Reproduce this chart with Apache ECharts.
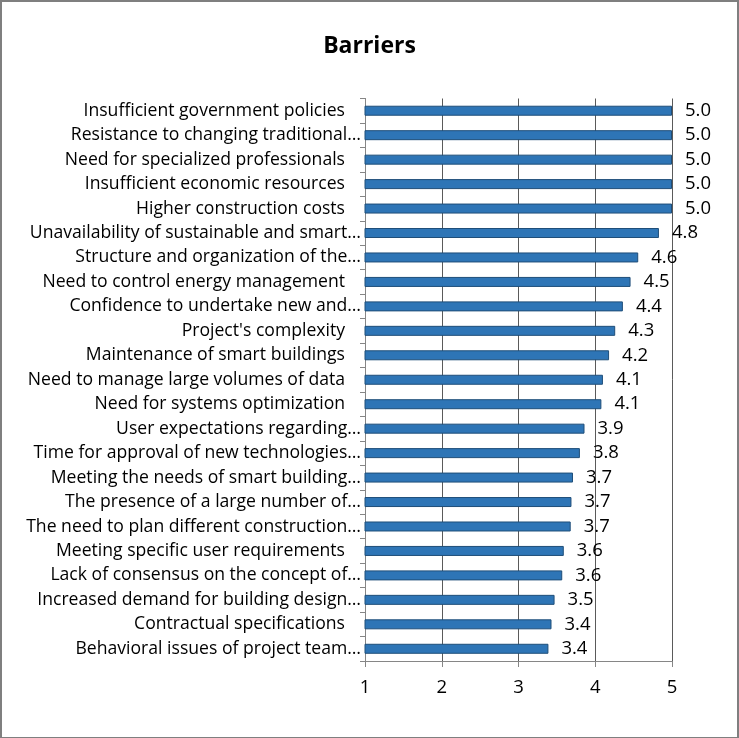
<!DOCTYPE html>
<html>
<head>
<meta charset="utf-8">
<script src="https://cdn.jsdelivr.net/npm/echarts@6/dist/echarts.min.js"></script>
<style>
html,body{margin:0;padding:0;background:#fff;}
#frame{position:absolute;left:0;top:0;width:735px;height:735px;border:2px solid #7f7f7f;}
#chart{position:absolute;left:0;top:0;width:739px;height:738px;}
</style>
</head>
<body>
<div id="frame"></div>
<div id="chart"></div>
<script>
const title = "Barriers";
const categories = [
  "Insufficient government policies",
  "Resistance to changing traditional…",
  "Need for specialized professionals",
  "Insufficient economic resources",
  "Higher construction costs",
  "Unavailability of sustainable and smart…",
  "Structure and organization of the…",
  "Need to control energy management",
  "Confidence to undertake new and…",
  "Project's complexity",
  "Maintenance of smart buildings",
  "Need to manage large volumes of data",
  "Need for systems optimization",
  "User expectations regarding…",
  "Time for approval of new technologies…",
  "Meeting the needs of smart building…",
  "The presence of a large number of…",
  "The need to plan different construction…",
  "Meeting specific user requirements",
  "Lack of consensus on the concept of…",
  "Increased demand for building design…",
  "Contractual specifications",
  "Behavioral issues of project team…"
];
const values = [5.0, 5.0, 5.0, 5.0, 5.0, 4.83, 4.56, 4.46, 4.36, 4.26, 4.18, 4.10, 4.08, 3.86, 3.80, 3.71, 3.69, 3.68, 3.59, 3.57, 3.47, 3.43, 3.39];
const xTicks = [1, 2, 3, 4, 5];

const FONT = "Open Sans";
const chart = echarts.init(document.getElementById('chart'), null, {renderer: 'canvas'});
chart.setOption({
  animation: false,
  backgroundColor: 'transparent',
  title: {
    text: title,
    left: 'center',
    top: 30,
    textStyle: {fontFamily: FONT, fontWeight: 'bold', fontSize: 23, color: '#000'}
  },
  grid: {left: 365, right: 67, top: 98.5, bottom: 77, containLabel: false},
  xAxis: {
    type: 'value',
    min: xTicks[0],
    max: xTicks[xTicks.length - 1],
    interval: 1,
    axisLine: {show: true, lineStyle: {color: '#868686', width: 1}},
    axisTick: {show: true, length: 6, lineStyle: {color: '#868686'}},
    splitLine: {show: true, lineStyle: {color: '#5a5a5a', width: 1}},
    axisLabel: {
      fontFamily: FONT, fontSize: 18.5, color: '#000', margin: 17,
      formatter: v => xTicks.includes(v) ? String(v) : ''
    }
  },
  yAxis: {
    type: 'category',
    inverse: true,
    data: categories,
    axisLine: {show: true, lineStyle: {color: '#868686', width: 1}},
    axisTick: {show: true, length: 5, lineStyle: {color: '#868686'}},
    splitLine: {show: false},
    axisLabel: {
      fontFamily: FONT, fontSize: 17.6, color: '#000', margin: 4,
      formatter: v => v.endsWith('…') ? v : '{p|' + v + '}',
      rich: {p: {fontFamily: FONT, fontSize: 17.6, color: '#000', padding: [0, 16, 0, 0]}}
    }
  },
  series: [{
    type: 'bar',
    data: values,
    barWidth: 10,
    itemStyle: {color: '#2E75B6', borderColor: '#1F4E79', borderWidth: 1},
    label: {
      show: true,
      position: 'right',
      distance: 13,
      fontFamily: FONT,
      fontSize: 18.5,
      color: '#000',
      formatter: p => p.value.toFixed(1)
    }
  }]
});
</script>
</body>
</html>
